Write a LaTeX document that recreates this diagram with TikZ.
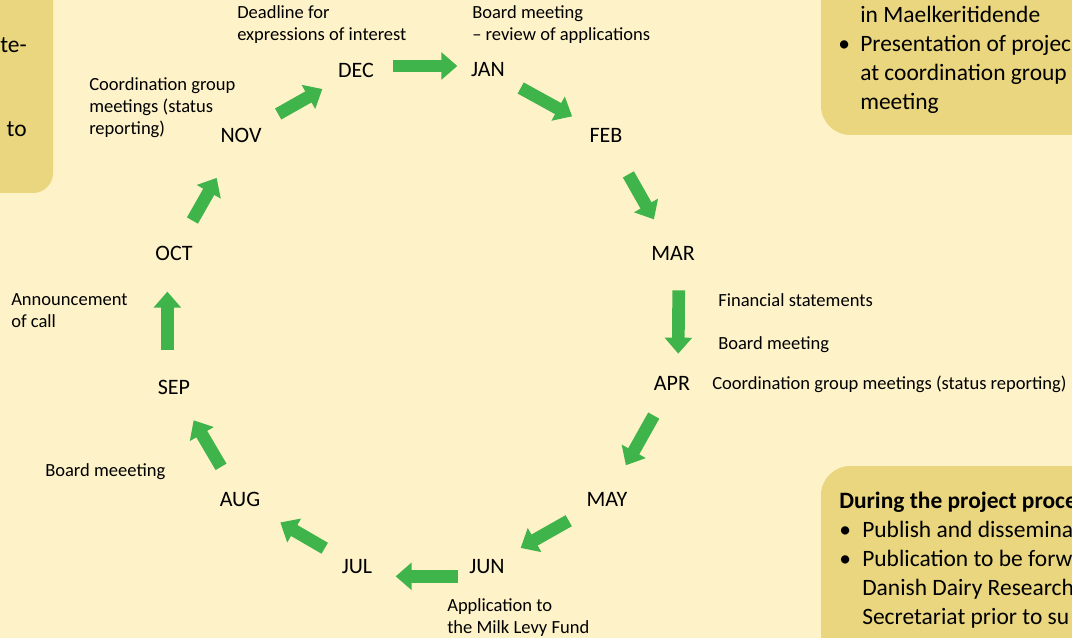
\documentclass[tikz,border=0pt]{standalone}
\usepackage{fontspec}
\setmainfont{Carlito}
\usepackage{tikz}
\usetikzlibrary{arrows.meta,positioning}
\definecolor{cream}{RGB}{254,242,200}
\definecolor{sand}{RGB}{234,214,126}
\definecolor{leaf}{RGB}{62,180,74}

\begin{document}
\begin{tikzpicture} [x=0.75pt,y=-0.75pt,
  month/.style={inner sep=0pt,font=\fontsize{16.5}{19}\selectfont},
  note/.style={inner sep=0pt,align=left,anchor=west,font=\fontsize{13.9}{16.5}\selectfont},
  box/.style={fill=sand,rounded corners=22pt},
  boxtext/.style={inner sep=0pt,align=left,anchor=north west,font=\fontsize{17.6}{21.75}\selectfont},
  turn/.style={draw,color=leaf,line width=9.5pt,-{Triangle[length=12pt,width=20pt]},
    shorten <=28pt,shorten >=29pt}]

  \useasboundingbox (0,0) rectangle (1072,638);
  \fill[cream] (0,0) rectangle (1072,638);

  % boxes at the sides
  \fill[box,rounded corners=15pt] (-60,-60) rectangle (53,193);
  \fill[box] (821,-60) rectangle (1140,135);
  \fill[box] (821,466) rectangle (1140,720);

  \node[inner sep=0pt,anchor=base east,font=\fontsize{17.6}{21.75}\selectfont] (lefta) at (27,53) {te-};
  \node[inner sep=0pt,anchor=base east,font=\fontsize{17.6}{21.75}\selectfont] (leftb) at (27,137) {to};

  \node[boxtext] (righttop) at (838,6) {\hspace*{16.5pt}in Maelkeritidende\\
    \makebox[16.5pt][l]{\textbullet}Presentation of projec\\
    \hspace*{16.5pt}at coordination group\\
    \hspace*{16.5pt}meeting};

  \node[boxtext] (rightbot) at (839,492) {\textbf{During the project proce}\\
    \makebox[17.25pt][l]{\textbullet}Publish and dissemina\\
    \makebox[17.25pt][l]{\textbullet}Publication to be forw\\
    \hspace*{17.25pt}Danish Dairy Research\\
    \hspace*{17.25pt}Secretariat prior to su};

  % the months
  \node[month] (dec) at (356,70) {DEC};
  \node[month] (jan) at (488,70) {JAN};
  \node[month] (feb) at (606,135) {FEB};
  \node[month] (mar) at (673,253) {MAR};
  \node[month] (apr) at (672,383) {APR};
  \node[month] (may) at (607,499) {MAY};
  \node[month] (jun) at (487,567) {JUN};
  \node[month] (jul) at (357,567) {JUL};
  \node[month] (aug) at (240,499) {AUG};
  \node[month] (sep) at (174,387) {SEP};
  \node[month] (oct) at (174,253) {OCT};
  \node[month] (nov) at (241,135) {NOV};

  % what happens when
  \node[note] (deadline) at (237,25) {Deadline for\\expressions of interest};
  \node[note] (review) at (472,25) {Board meeting\\-- review of applications};
  \node[note] (coordnov) at (89,108) {Coordination group\\meetings (status\\reporting)};
  \node[note] (call) at (11,311) {Announcement\\of call};
  \node[note] (boardaug) at (45,472) {Board meeeting};
  \node[note] (finance) at (718,300) {Financial statements};
  \node[note] (boardapr) at (718,345) {Board meeting};
  \node[note] (coordapr) at (712,384) {Coordination group meetings (status reporting)};
  \node[note] (levy) at (447,618) {Application to\\the Milk Levy Fund};

  \path[every edge/.style=turn]
    ([yshift=3pt]dec.center) edge[shorten >=23pt] ([yshift=3pt]jan.center)
    (jan.center) edge (feb.center)
    (feb.center) edge[shorten <=34pt] (mar.center)
    ([xshift=4.5pt]mar.center) edge[shorten >=22pt] ([xshift=4.5pt]apr.center)
    (apr.center) edge (may.center)
    (may.center) edge[shorten <=33pt] (jun.center)
    ([yshift=-7pt]jun.center) edge[shorten <=22pt] ([yshift=-7pt]jul.center)
    (jul.center) edge[shorten >=35pt] (aug.center)
    (aug.center) edge (sep.center)
    ([xshift=-5pt]sep.center) edge ([xshift=-5pt]oct.center)
    (oct.center) edge[shorten >=37pt] (nov.center)
    (nov.center) edge[shorten <=32pt] (dec.center);

\end{tikzpicture}
\end{document}
